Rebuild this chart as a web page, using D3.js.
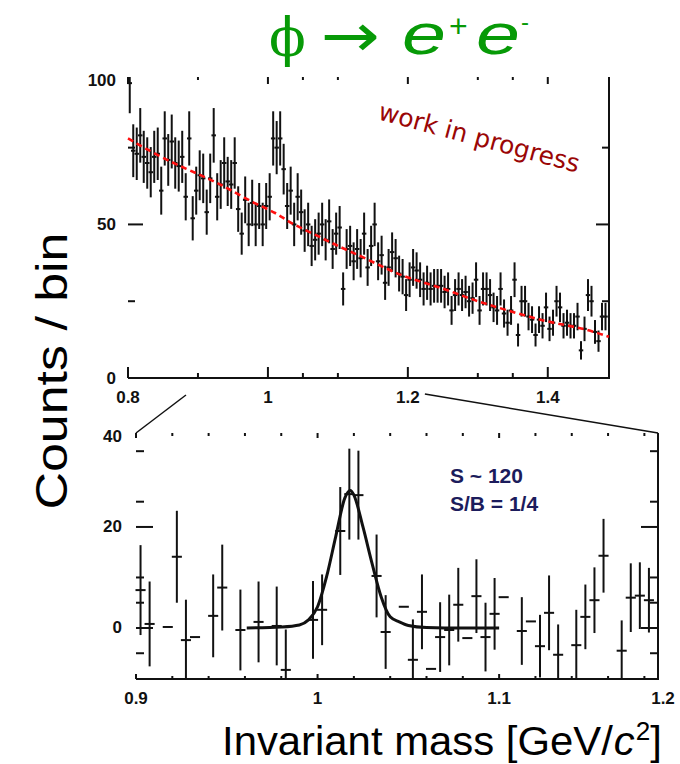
<!DOCTYPE html>
<html>
<head>
<meta charset="utf-8">
<script src="https://cdn.jsdelivr.net/npm/d3@7"></script>
<style>
    body { margin: 0; background: #fff; }
    svg { display: block; font-family: 'Liberation Sans', Arial, sans-serif; }
    .lbl { font-weight: bold; font-size: 17px; fill: #111; }
</style>
</head>
<body>
<svg id="chart" width="680" height="764"></svg>
<script>
// upper panel: e+e- invariant mass, 5 MeV bins starting at 0.8 GeV
let topStart = 0.8, binWidth = 0.005
let topCounts = [
    96, 74, 73, 79, 72, 70, 67, 72, 73, 61,
    78, 71, 77, 70, 69, 72, 59, 78, 52, 61,
    66, 65, 54, 65, 79, 59, 63, 70, 64, 63,
    70, 55, 47, 58, 50, 57, 50, 56, 50, 56,
    59, 78, 75, 78, 68, 56, 61, 50, 59, 54,
    48, 50, 43, 45, 47, 50, 45, 51, 42, 47,
    49, 29, 42, 43, 38, 42, 39, 47, 36, 43,
    50, 38, 40, 31, 36, 41, 39, 34, 33, 27,
    32, 36, 35, 32, 29, 31, 29, 30, 30, 30,
    28, 29, 22, 27, 29, 27, 28, 25, 26, 32,
    22, 29, 29, 27, 23, 22, 29, 21, 18, 22,
    32, 14, 25, 25, 20, 19, 14, 19, 17, 23,
    16, 18, 25, 23, 17, 18, 17, 17, 20, 9,
    16, 27, 25, 15, 12, 20, 20
]
let topFitMass = [0.8, 0.846, 0.884, 0.914, 0.941, 0.979, 1.013, 1.031, 1.074, 1.099,
    1.136, 1.174, 1.207, 1.246, 1.293, 1.341, 1.399, 1.45, 1.4875]
let topFitCounts = [78, 72, 68, 65, 62, 57, 53.7, 50.5, 46, 43,
    39.4, 35, 32, 29.6, 25.4, 22.1, 18.2, 16.3, 13.4]
let topMajorX = [0.8, 1, 1.2, 1.4]
let topMinorX = [0.9, 1.05, 1.1, 1.3, 1.35]
let topMajorY = [0, 50, 100]
let topMinorY = [25, 75]

// lower panel: background subtracted, zoom on 0.9 - 1.2 GeV
let botMass = [0.9025, 0.9075, 0.9175, 0.9225, 0.9275, 0.9325, 0.9425, 0.9475, 0.9575, 0.9675,
    0.9775, 0.9825, 0.9975, 1.0025, 1.0125, 1.0175, 1.0225, 1.0325, 1.0375, 1.0475,
    1.0525, 1.0575, 1.0625, 1.0675, 1.0725, 1.0775, 1.0825, 1.0875, 1.0925, 1.0975,
    1.1025, 1.1125, 1.1175, 1.1225, 1.1275, 1.1325, 1.1425, 1.1475, 1.1525, 1.1575,
    1.1675, 1.1725, 1.1775, 1.1825]
let botCounts = [7.5, 0.8, 0.2, 14.1, -2.4, -1.8, 2.4, 8, -0.4, 1.2,
    0.4, -8.3, 1.6, 3.6, 19.2, 26.5, 26.3, 10.3, -0.8, 4.2,
    -6.3, 3.2, -8.1, -1.8, -0.4, 4.6, -2, 6.3, -1.8, 2.8,
    6.1, -0.6, 1.3, -3.6, 3, -5.3, -3.4, 2.2, 5.5, 14.3,
    -4.5, 6, 6.4, 5.5]
let botErrors = [8.9, 8.4, 0, 9.1, 8, 0, 8.2, 8.5, 8, 8,
    7.8, 8, 7.7, 7, 8.7, 9, 8.8, 8.2, 7.3, 0,
    8, 7.4, 0, 6.9, 7, 7.3, 0, 7.3, 6.8, 7.1,
    0, 6.7, 0, 6.2, 7.4, 6, 7, 6.4, 6.5, 7.3,
    6, 6.8, 6.6, 6.4]
let botFitMass = [0.961, 0.98, 0.99, 0.995, 1.0, 1.005, 1.01, 1.015, 1.018, 1.02,
    1.025, 1.03, 1.035, 1.04, 1.045, 1.05, 1.06, 1.08, 1.1]
let botFitCounts = [0, 0.2, 0.6, 1.6, 4.2, 10.2, 18.1, 25.7, 27.2, 26.3,
    20, 12.8, 6.2, 2.2, 1.2, 0.5, 0.1, 0, 0]
let botMajorX = [0.9, 1, 1.1, 1.2]
let botMinorX = [0.92, 0.94, 0.96, 0.98, 1.02, 1.04, 1.06, 1.08, 1.12, 1.14, 1.16, 1.18]
let botMajorY = [0, 20, 40]
let botMinorY = [-5, 5, 10, 25, 35]

function main() {
    let svg = d3.select('#chart')

    // ---- upper panel
    let xTop = d3.scaleLinear().domain([0.8, 1.4875]).range([128, 609]),
        yTop = d3.scaleLinear().domain([0, 98]).range([378, 77]).clamp(true)

    let topData = topCounts.map((c, i) => ({
        m: topStart + binWidth * (i + 0.5),
        c: c,
        e: Math.sqrt(c)
    }))

    drawFrame(svg, xTop, yTop, {
        majorX: topMajorX, minorX: topMinorX, majorY: topMajorY, minorY: topMinorY,
        bottomTick: [11, 5], topTick: [7, 3], leftTick: [15, 7], rightTick: [13, 7],
        yLabelGap: 12
    })
    drawPoints(svg, xTop, yTop, topData, 2, '#111')

    svg.append('path')
        .datum(topFitMass.map((m, i) => [m, topFitCounts[i]]))
        .attr('fill', 'none')
        .attr('stroke', '#ff1010')
        .attr('stroke-width', 2.6)
        .attr('stroke-dasharray', '6,4')
        .attr('d', d3.line().curve(d3.curveBasis).x(d => xTop(d[0])).y(d => yTop(d[1])))

    svg.append('text')
        .attr('transform', 'translate(377,119) rotate(15)')
        .attr('fill', '#9a0606')
        .style('font-family', "'DejaVu Sans', Verdana, sans-serif")
        .style('font-size', '25px')
        .text('work in progress')

    // ---- lower panel
    let xBot = d3.scaleLinear().domain([0.9, 1.1875]).range([136, 658]),
        yBot = d3.scaleLinear().domain([-10.1, 38.6]).range([679, 433]).clamp(true)

    let botData = botMass.map((m, i) => ({m: m, c: botCounts[i], e: botErrors[i]}))

    drawFrame(svg, xBot, yBot, {
        majorX: botMajorX, minorX: botMinorX, majorY: botMajorY, minorY: botMinorY,
        bottomTick: [5, 3], topTick: [5, 3], leftTick: [17, 8], rightTick: [17, 8],
        yLabelGap: 14
    })
    drawPoints(svg, xBot, yBot, botData, 2, '#111')

    svg.append('path')
        .datum(botFitMass.map((m, i) => [m, botFitCounts[i]]))
        .attr('fill', 'none')
        .attr('stroke', '#111')
        .attr('stroke-width', 3)
        .attr('d', d3.line().curve(d3.curveMonotoneX).x(d => xBot(d[0])).y(d => yBot(d[1])))

    let info = svg.append('g')
        .attr('fill', '#1c1c5c')
        .style('font-weight', 'bold')
        .style('font-size', '21px')
    info.append('text').attr('x', 450).attr('y', 483).text('S ~ 120')
    info.append('text').attr('x', 450).attr('y', 511).text('S/B = 1/4')

    // zoom connector lines between the panels
    let conn = [
        [[xTop(0.9) - 12, 395], [xBot.range()[0], yBot.range()[1]]],
        [[xTop(1.2) + 17, 394], [xBot.range()[1], yBot.range()[1]]]
    ]
    svg.selectAll('.conn')
        .data(conn)
        .enter().append('line')
        .attr('class', 'conn')
        .attr('x1', d => d[0][0]).attr('y1', d => d[0][1])
        .attr('x2', d => d[1][0]).attr('y2', d => d[1][1])
        .attr('stroke', '#111')
        .attr('stroke-width', 1.5)

    // ---- titles
    let title = svg.append('g').attr('fill', '#079a07')
    title.append('text')
        .attr('x', 269).attr('y', 56)
        .style('font-family', "'DejaVu Serif', 'Liberation Serif', serif")
        .style('font-size', '54px')
        .text('\u03D5')
    title.append('text')
        .attr('x', 321).attr('y', 56)
        .attr('textLength', 59)
        .attr('lengthAdjust', 'spacingAndGlyphs')
        .style('font-family', "'DejaVu Sans', sans-serif")
        .style('font-size', '60px')
        .text('\u2192')
    // italic electrons, slightly widened like the slide font
    let eParts = [
        {t: 'e', x: 402, y: 54, size: 58, italic: true, len: 44},
        {t: '+', x: 449, y: 37, size: 32, italic: false, len: 0},
        {t: 'e', x: 476, y: 54, size: 58, italic: true, len: 44},
        {t: '-', x: 521, y: 30, size: 24, italic: false, len: 0}
    ]
    title.selectAll('.ee')
        .data(eParts)
        .enter().append('text')
        .attr('class', 'ee')
        .attr('x', d => d.x).attr('y', d => d.y)
        .attr('textLength', d => d.len || null)
        .attr('lengthAdjust', 'spacingAndGlyphs')
        .style('font-size', d => d.size + 'px')
        .style('font-style', d => d.italic ? 'italic' : 'normal')
        .text(d => d.t)

    svg.append('text')
        .attr('transform', 'translate(67,371) rotate(-90)')
        .attr('text-anchor', 'middle')
        .attr('textLength', 277)
        .attr('lengthAdjust', 'spacingAndGlyphs')
        .style('font-size', '44px')
        .attr('fill', '#000')
        .text('Counts / bin')

    let xt = svg.append('text')
        .attr('x', 222).attr('y', 755)
        .attr('textLength', 440)
        .attr('lengthAdjust', 'spacingAndGlyphs')
        .style('font-size', '40px')
        .attr('fill', '#000')
    xt.append('tspan').text('Invariant mass [GeV/')
    xt.append('tspan').attr('dx', 1).style('font-style', 'italic').text('c')
    xt.append('tspan').attr('dx', 1).attr('dy', -15).style('font-size', '25px').text('2')
    xt.append('tspan').attr('dy', 15).text(']')
}

function drawPoints(svg, x, y, data, width, color) {
    let g = svg.append('g').attr('stroke', color).attr('stroke-width', width)
    g.selectAll('.err')
        .data(data.filter(d => d.e > 0))
        .enter().append('line')
        .attr('class', 'err')
        .attr('x1', d => x(d.m)).attr('x2', d => x(d.m))
        .attr('y1', d => y(d.c - d.e)).attr('y2', d => y(d.c + d.e))
    g.selectAll('.bin')
        .data(data)
        .enter().append('line')
        .attr('class', 'bin')
        .attr('x1', d => x(d.m - binWidth / 2) - 0.5)
        .attr('x2', d => x(d.m + binWidth / 2) + 0.5)
        .attr('y1', d => y(d.c)).attr('y2', d => y(d.c))
}

function drawFrame(svg, x, y, o) {
    let [x0, x1] = x.range(), [y0, y1] = y.range()
    let g = svg.append('g').attr('stroke', '#111').attr('stroke-width', 2)

    g.append('line').attr('x1', x0).attr('x2', x1 + 1).attr('y1', y0).attr('y2', y0)
    g.append('line').attr('x1', x1).attr('x2', x1).attr('y1', y1).attr('y2', y0)

    let xt = o.majorX.map(v => ({v: v, major: true})).concat(o.minorX.map(v => ({v: v, major: false})))
        .filter(d => x(d.v) >= x0 && x(d.v) <= x1)
    let yt = o.majorY.map(v => ({v: v, major: true})).concat(o.minorY.map(v => ({v: v, major: false})))
        .filter(d => y(d.v) <= y0 && y(d.v) > y1 + 2)

    g.selectAll('.tb').data(xt).enter().append('line')
        .attr('x1', d => x(d.v)).attr('x2', d => x(d.v))
        .attr('y1', y0).attr('y2', d => y0 - (d.major ? o.bottomTick[0] : o.bottomTick[1]))
    g.selectAll('.tt').data(xt).enter().append('line')
        .attr('x1', d => x(d.v)).attr('x2', d => x(d.v))
        .attr('y1', y1).attr('y2', d => y1 + (d.major ? o.topTick[0] : o.topTick[1]))
    g.selectAll('.tl').data(yt).enter().append('line')
        .attr('x1', x0).attr('x2', d => x0 + (d.major ? o.leftTick[0] : o.leftTick[1]))
        .attr('y1', d => y(d.v)).attr('y2', d => y(d.v))
    g.selectAll('.tr').data(yt).enter().append('line')
        .attr('x1', x1).attr('x2', d => x1 - (d.major ? o.rightTick[0] : o.rightTick[1]))
        .attr('y1', d => y(d.v)).attr('y2', d => y(d.v))

    let fmt = d3.format('')
    svg.append('g').selectAll('text')
        .data(o.majorX)
        .enter().append('text')
        .attr('class', 'lbl')
        .attr('text-anchor', 'middle')
        .attr('x', d => Math.min(x(d), x1 + 5))
        .attr('y', y0 + 25)
        .text(d => fmt(d))
    svg.append('g').selectAll('text')
        .data(o.majorY)
        .enter().append('text')
        .attr('class', 'lbl')
        .attr('text-anchor', 'end')
        .attr('dominant-baseline', 'central')
        .attr('x', x0 - o.yLabelGap)
        .attr('y', d => Math.max(y(d), y1 + 3))
        .text(d => fmt(d))
}

main()
</script>
</body>
</html>
